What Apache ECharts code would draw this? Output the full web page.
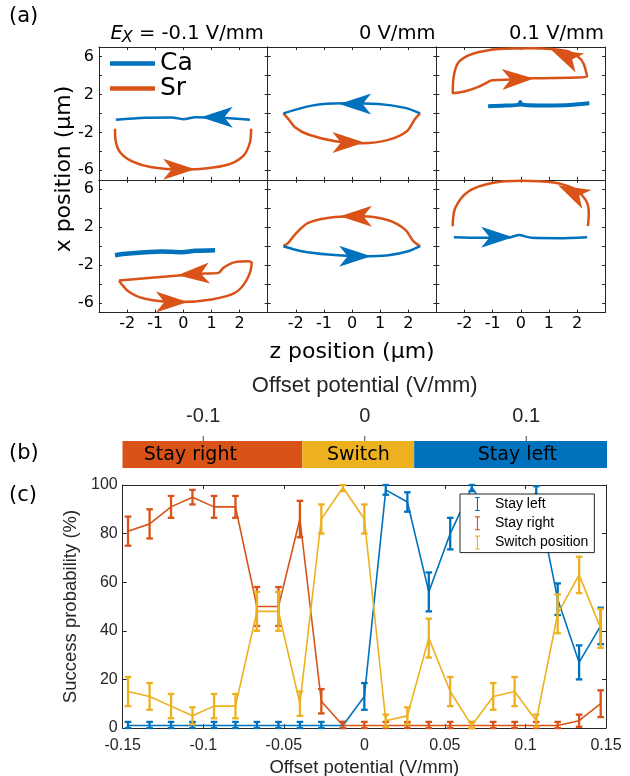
<!DOCTYPE html>
<html><head><meta charset="utf-8">
<script src="https://cdn.jsdelivr.net/npm/echarts@6/dist/echarts.min.js"></script>
<style>html,body{margin:0;padding:0;background:#fff}#c{width:630px;height:776px}</style>
</head><body><div id="c"></div><script>
// ---------------- Panel (a): trajectories, points are [z, x] in µm ----------------
const fieldTitles = ['-0.1 V/mm', '0 V/mm', '0.1 V/mm'];
const zTicks = [-2, -1, 0, 1, 2];
const xTickMarks = [-6, -4, -2, 0, 2, 4, 6];
const xTickLabels = [-6, -2, 2, 6];

const caTL = [[-2.4,-0.68],[-1.36,-0.47],[-0.41,-0.44],[0.0,-0.61],[0.42,-0.40],[1.37,-0.47],[2.37,-0.68]];
const srTL = [[-2.43,-1.63],[-2.41,-2.86],[-2.25,-4.09],[-1.84,-5.03],[-1.12,-5.67],[-0.06,-5.91],[0.77,-5.81],[1.60,-5.39],[2.14,-4.44],[2.37,-3.04],[2.41,-1.63]];
const caTM = [[-2.44,0.0],[-1.43,0.82],[-0.37,1.07],[0.94,1.0],[1.89,0.58],[2.42,0.0]];
const srTM = [[-2.44,0.0],[-2.27,-0.58],[-2.03,-1.46],[-1.56,-2.23],[-0.6,-2.93],[0.35,-3.14],[1.29,-2.79],[1.95,-1.88],[2.24,-0.58],[2.42,0.0]];
const caTR = [[-1.16,0.76],[-0.55,0.83],[-0.05,0.93],[-0.02,1.21],[0.04,0.93],[0.64,0.83],[1.59,0.86],[2.44,1.07]];
const srTR = [[-1.08,3.46],[0.40,3.70],[2.36,3.88],[2.24,5.21],[2.06,5.91],[1.59,6.61],[0.40,6.88],[-0.78,6.79],[-1.73,6.26],[-2.21,5.39],[-2.38,3.98],[-2.42,2.12],[-1.97,2.33],[-1.49,2.82],[-1.08,3.46]];
const caBL = [[-2.43,-0.95],[-1.96,-0.77],[-0.77,-0.56],[-0.06,-0.63],[0.42,-0.49],[1.13,-0.42]];
const srBL = [[-2.29,-3.61],[-1.96,-4.74],[-1.36,-5.54],[-0.18,-5.89],[1.01,-5.61],[1.84,-4.91],[2.26,-3.51],[2.43,-1.75],[2.31,-1.58],[1.84,-1.68],[1.42,-2.28],[1.25,-2.81],[0.77,-2.88],[-0.06,-3.05],[-2.29,-3.61]];
const caBM = [[-2.44,0.0],[-1.79,-0.53],[-0.84,-0.88],[0.35,-1.05],[1.29,-0.95],[2.0,-0.53],[2.42,0.0]];
const srBM = [[-2.44,0.0],[-2.27,0.35],[-2.03,1.23],[-1.56,2.46],[-0.6,3.09],[0.35,3.16],[1.29,2.74],[1.89,1.75],[2.18,0.53],[2.42,0.0]];
const caBR = [[-2.38,0.95],[-1.38,0.88],[-0.43,0.92],[-0.05,1.19],[0.04,1.12],[0.4,0.88],[1.35,0.84],[2.36,0.95]];
const srBR = [[-2.42,2.11],[-2.33,4.03],[-1.85,5.79],[-1.02,6.67],[0.04,6.91],[1.11,6.74],[1.83,6.14],[2.30,4.91],[2.42,3.51],[2.39,2.11]];

// arrowheads: [z, x, direction in degrees (0 = +z, 90 = +x)]
const arrCaTL = [[1.19,-0.40,180]];
const arrSrTL = [[-0.15,-5.9,0]];
const arrCaTM = [[0.11,1.0,180]];
const arrSrTM = [[-0.13,-3.07,0]];
const arrCaTR = [];
const arrSrTR = [[-0.10,3.63,2],[1.59,6.03,155]];
const arrCaBL = [];
const arrSrBL = [[-0.41,-5.89,0],[0.36,-2.95,184]];
const arrCaBM = [[0.11,-1.05,0]];
const arrSrBM = [[0.14,3.16,180]];
const arrCaBR = [[-0.84,0.95,0]];
const arrSrBR = [[1.84,5.68,154]];

// ---------------- Panel (b): regimes ----------------
const phaseNames = ['Stay right', 'Switch', 'Stay left'];
const phaseStart = [-0.15, -0.0387, 0.0306];
const phaseEnd = [-0.0387, 0.0306, 0.15];
const phaseLabelAt = [-0.108, -0.004, 0.0945];
const phaseTicks = [-0.1, 0, 0.1];

// ---------------- Panel (c): success probabilities ----------------
const offsets = [-0.1467,-0.1333,-0.12,-0.1067,-0.0933,-0.08,-0.0667,-0.0533,-0.04,-0.0267,-0.0133,0,0.0133,0.0267,0.04,0.0533,0.0667,0.08,0.0933,0.1067,0.12,0.1333,0.1467];
const stayLeft    = [1,1,1,1,1,1,1,1,1,1,1,13,98,93,56,80,99,86,84,97,53,27,42];
const stayLeftErr = [1.5,1.5,1.5,1.5,1.5,1.5,1.5,1.5,1.5,1.5,1.5,5.5,2,4,8,6.5,1.5,5,5,2.5,6.5,7,7.5];
const stayRight    = [81,84,91,95,91,91,50,50,86,11,1,1,1,1,1,1,1,1,1,1,1,3,10];
const stayRightErr = [6,6,4.5,3,4.5,4.5,8,8,7.5,5,1.5,1.5,1.5,1.5,1.5,1.5,1.5,1.5,1.5,1.5,1.5,2.5,5.5];
const switchPos    = [15,13,9,5,9,9,48,48,10,86,99,86,3,5,37,15,1,13,15,3,47,63,41];
const switchErr    = [6,5.5,5,3.5,5,5,8,8,5,6,1.5,6,2.5,3.5,8,6,1.5,5.5,6,2.5,8,7.5,8];

// ---------------- styling ----------------
const BLUE = '#0072BD', ORANGE = '#D95319', YELLOW = '#EDB120', AX = '#262626';
const FA = 'DejaVu Sans', FC = 'Liberation Sans';
const ARROW = 'path://M10,0L20,30L10,22L0,30Z';

const chart = echarts.init(document.getElementById('c'), null, {renderer: 'canvas', width: 630, height: 776});

const panels = [
  {ca: caTL, sr: srTL, ca_a: arrCaTL, sr_a: arrSrTL, caW: 2.5},
  {ca: caTM, sr: srTM, ca_a: arrCaTM, sr_a: arrSrTM, caW: 2.5},
  {ca: caTR, sr: srTR, ca_a: arrCaTR, sr_a: arrSrTR, caW: 4},
  {ca: caBL, sr: srBL, ca_a: arrCaBL, sr_a: arrSrBL, caW: 4.5},
  {ca: caBM, sr: srBM, ca_a: arrCaBM, sr_a: arrSrBM, caW: 2.5},
  {ca: caBR, sr: srBR, ca_a: arrCaBR, sr_a: arrSrBR, caW: 2.5}
];

const grids = [], xAxes = [], yAxes = [], series = [];
const aL = 99, aT = 47, aW = 168.7, aH = 132.8;

panels.forEach((p, i) => {
  const r = Math.floor(i / 3), c = i % 3;
  grids.push({left: aL + c * aW, top: aT + r * aH, width: aW, height: aH, outerBoundsMode: 'none'});
  const baseX = {gridIndex: i, type: 'value', min: -3, max: 3,
    axisLine: {onZero: false, lineStyle: {color: AX, width: 1}},
    axisTick: {inside: true, length: 3, customValues: zTicks, lineStyle: {color: AX}},
    splitLine: {show: false}};
  xAxes.push(Object.assign({}, baseX, {position: 'bottom',
    axisLabel: {show: r === 1, customValues: zTicks, fontFamily: FA, fontSize: 16, color: '#000', margin: 3},
    name: (r === 1 && c === 1) ? 'z position (μm)' : '', nameLocation: 'middle', nameGap: 29,
    nameTextStyle: {fontFamily: FA, fontSize: 22, color: '#000'}}));
  xAxes.push(Object.assign({}, baseX, {position: 'top', axisLabel: {show: false}}));
  const baseY = {gridIndex: i, type: 'value', min: -7, max: 7,
    axisLine: {onZero: false, lineStyle: {color: AX, width: 1}},
    axisTick: {inside: true, length: 3, customValues: xTickMarks, lineStyle: {color: AX}},
    splitLine: {show: false}};
  yAxes.push(Object.assign({}, baseY, {position: 'left',
    axisLabel: {show: c === 0, customValues: xTickLabels, fontFamily: FA, fontSize: 16, color: '#000', margin: 5}}));
  yAxes.push(Object.assign({}, baseY, {position: 'right', axisLabel: {show: false}}));

  series.push({name: 'Sr', type: 'line', xAxisIndex: 2 * i, yAxisIndex: 2 * i, data: p.sr,
    showSymbol: false, symbol: 'none', smooth: 0.3, lineStyle: {color: ORANGE, width: 2.5}, itemStyle: {color: ORANGE}, z: 2});
  series.push({name: 'Ca', type: 'line', xAxisIndex: 2 * i, yAxisIndex: 2 * i, data: p.ca,
    showSymbol: false, symbol: 'none', smooth: 0.3, lineStyle: {color: BLUE, width: p.caW}, itemStyle: {color: BLUE}, z: 3});
  [[p.sr_a, ORANGE, 'Sr'], [p.ca_a, BLUE, 'Ca']].forEach(([arr, col, nm]) => {
    series.push({name: nm, type: 'scatter', xAxisIndex: 2 * i, yAxisIndex: 2 * i,
      data: arr.map(a => ({value: [a[0], a[1]], symbolRotate: a[2] - 90})),
      symbol: ARROW, symbolSize: [21, 32], itemStyle: {color: col, opacity: 1}, z: 4, silent: true});
  });
});

// Panel (b)
grids.push({left: 122.5, right: 23, top: 441, height: 27, outerBoundsMode: 'none'});
xAxes.push({gridIndex: 6, type: 'value', position: 'top', min: -0.15, max: 0.15,
  axisLine: {show: false, onZero: false},
  axisTick: {show: false},
  axisLabel: {customValues: phaseTicks, fontFamily: FC, fontSize: 20, color: AX, margin: 15},
  splitLine: {show: false},
  name: 'Offset potential (V/mm)', nameLocation: 'middle', nameGap: 44,
  nameTextStyle: {fontFamily: FC, fontSize: 22, color: AX}});
yAxes.push({gridIndex: 6, type: 'value', min: 0, max: 1, show: false});
series.push({name: 'regimes', type: 'custom', xAxisIndex: 12, yAxisIndex: 12,
  data: phaseNames.map((n, i) => [phaseStart[i], phaseEnd[i], phaseLabelAt[i], i]),
  encode: {x: [0, 1]},
  renderItem: (params, api) => {
    const i = api.value(3);
    const p0 = api.coord([api.value(0), 1]);
    const p1 = api.coord([api.value(1), 0]);
    const pl = api.coord([api.value(2), 0.5]);
    return {type: 'group', children: [
      {type: 'rect', shape: {x: p0[0], y: p0[1], width: p1[0] - p0[0], height: p1[1] - p0[1]},
        style: {fill: [ORANGE, YELLOW, BLUE][i]}},
      {type: 'text', style: {text: phaseNames[i], x: pl[0], y: pl[1] + 1, align: 'center', verticalAlign: 'middle',
        font: '19px "DejaVu Sans"', fill: '#000'}}
    ]};
  }});
// tick marks of the (b) axis, placed by the axis scale
series.push({name: 'regimeTicks', type: 'custom', xAxisIndex: 12, yAxisIndex: 12,
  data: phaseTicks.map(t => [t]), encode: {x: 0}, silent: true,
  renderItem: (params, api) => {
    const p = api.coord([api.value(0), 1]);
    return {type: 'line', shape: {x1: p[0], y1: p[1] - 5, x2: p[0], y2: p[1]}, style: {stroke: '#404040', lineWidth: 1}};
  }});

// Panel (c)
grids.push({left: 122.7, right: 24, top: 485, height: 243, outerBoundsMode: 'none'});
const cX = {gridIndex: 7, type: 'value', min: -0.15, max: 0.15, interval: 0.05,
  axisLine: {onZero: false, lineStyle: {color: AX, width: 1}},
  axisTick: {inside: true, length: 4, lineStyle: {color: AX}}, splitLine: {show: false}};
xAxes.push(Object.assign({}, cX, {position: 'bottom',
  axisLabel: {fontFamily: FC, fontSize: 16, color: AX, margin: 10},
  name: 'Offset potential (V/mm)', nameLocation: 'middle', nameGap: 30,
  nameTextStyle: {fontFamily: FC, fontSize: 18.5, color: AX}}));
xAxes.push(Object.assign({}, cX, {position: 'top', axisLabel: {show: false}}));
const cY = {gridIndex: 7, type: 'value', min: 0, max: 100, interval: 20,
  axisLine: {onZero: false, lineStyle: {color: AX, width: 1}},
  axisTick: {inside: true, length: 4, lineStyle: {color: AX}}, splitLine: {show: false}};
yAxes.push(Object.assign({}, cY, {position: 'left',
  axisLabel: {fontFamily: FC, fontSize: 16, color: AX, margin: 5},
  name: 'Success probability (%)', nameLocation: 'middle', nameGap: 31,
  nameTextStyle: {fontFamily: FC, fontSize: 18.5, color: AX}}));
yAxes.push(Object.assign({}, cY, {position: 'right', axisLabel: {show: false}}));

function errRender(color) {
  return (params, api) => {
    const x = api.value(0), y = api.value(1), e = api.value(2);
    const hi = api.coord([x, Math.min(100, y + e)]);
    const lo = api.coord([x, Math.max(0, y - e)]);
    const h = 3.3;
    const st = {stroke: color, lineWidth: 2.3};
    return {type: 'group', children: [
      {type: 'line', shape: {x1: hi[0], y1: hi[1], x2: lo[0], y2: lo[1]}, style: st},
      {type: 'line', shape: {x1: hi[0] - h, y1: hi[1], x2: hi[0] + h, y2: hi[1]}, style: st},
      {type: 'line', shape: {x1: lo[0] - h, y1: lo[1], x2: lo[0] + h, y2: lo[1]}, style: st}
    ]};
  };
}
[['Stay left', stayLeft, stayLeftErr, BLUE], ['Stay right', stayRight, stayRightErr, ORANGE],
 ['Switch position', switchPos, switchErr, YELLOW]].forEach(([nm, vals, errs, col], j) => {
  series.push({name: nm, type: 'line', xAxisIndex: 13, yAxisIndex: 13,
    data: offsets.map((x, i) => [x, vals[i]]), showSymbol: false, symbol: 'none',
    lineStyle: {color: col, width: 1.6}, itemStyle: {color: col}, z: 2 + j});
  series.push({name: nm, type: 'custom', xAxisIndex: 13, yAxisIndex: 13,
    data: offsets.map((x, i) => [x, vals[i], errs[i]]), encode: {x: 0, y: 1},
    itemStyle: {color: col}, renderItem: errRender(col), z: 2 + j});
});

// title text measurement for the E_x label
const mctx = document.createElement('canvas').getContext('2d');
mctx.font = '19.5px "DejaVu Sans"';
const wRest = mctx.measureText(' = -0.1 V/mm').width;
mctx.font = 'italic 16px "DejaVu Sans"';
const wX = mctx.measureText('X').width;
const colRight = [aL + aW - 4, aL + 2 * aW - 1, aL + 3 * aW - 1];
const titleY = 34;

const graphics = [
  {type: 'text', left: 9, top: 6, style: {text: '(a)', font: '21px "DejaVu Sans"', fill: '#000'}},
  {type: 'text', left: 9, top: 443, style: {text: '(b)', font: '21px "DejaVu Sans"', fill: '#000'}},
  {type: 'text', left: 9, top: 485, style: {text: '(c)', font: '21px "DejaVu Sans"', fill: '#000'}},
  {type: 'text', x: 64, y: 169, rotation: Math.PI / 2,
    style: {text: 'x position (μm)', font: '22px "DejaVu Sans"', fill: '#000', align: 'center', verticalAlign: 'middle'}},
  {type: 'text', x: colRight[0], y: titleY, style: {text: ' = ' + fieldTitles[0], font: '19.5px "DejaVu Sans"', fill: '#000', align: 'right', verticalAlign: 'middle'}},
  {type: 'text', x: colRight[0] - wRest, y: titleY + 4, style: {text: 'X', font: 'italic 16px "DejaVu Sans"', fill: '#000', align: 'right', verticalAlign: 'middle'}},
  {type: 'text', x: colRight[0] - wRest - wX + 1, y: titleY, style: {text: 'E', font: 'italic 19.5px "DejaVu Sans"', fill: '#000', align: 'right', verticalAlign: 'middle'}},
  {type: 'text', x: colRight[1], y: titleY, style: {text: fieldTitles[1], font: '19.5px "DejaVu Sans"', fill: '#000', align: 'right', verticalAlign: 'middle'}},
  {type: 'text', x: colRight[2], y: titleY, style: {text: fieldTitles[2], font: '19.5px "DejaVu Sans"', fill: '#000', align: 'right', verticalAlign: 'middle'}}
];

const ibeam = 'path://M0,0H7V1.6H4.3V18.4H7V20H0V18.4H2.7V1.6H0Z';

chart.setOption({
  animation: false,
  backgroundColor: '#fff',
  grid: grids, xAxis: xAxes, yAxis: yAxes, series: series,
  legend: [
    {data: [{name: 'Ca', icon: 'rect'}, {name: 'Sr', icon: 'rect'}], left: 110, top: 51, orient: 'vertical',
      itemWidth: 45, itemHeight: 4.5, itemGap: 0, padding: 0, selectedMode: false,
      textStyle: {fontFamily: FA, fontSize: 25, color: '#000', lineHeight: 22}},
    {data: [{name: 'Stay left', icon: ibeam, itemStyle: {color: BLUE}},
            {name: 'Stay right', icon: ibeam, itemStyle: {color: ORANGE}},
            {name: 'Switch position', icon: ibeam, itemStyle: {color: YELLOW}}],
      left: 460, top: 494, orient: 'vertical', itemWidth: 7, itemHeight: 14, itemGap: 5.3,
      padding: [3, 6, 3, 15], borderColor: AX, borderWidth: 1, backgroundColor: '#fff', selectedMode: false, z: 10,
      textStyle: {fontFamily: FC, fontSize: 14, color: '#000', padding: [0, 0, 0, 9]}}
  ],
  graphic: graphics
});
</script></body></html>
